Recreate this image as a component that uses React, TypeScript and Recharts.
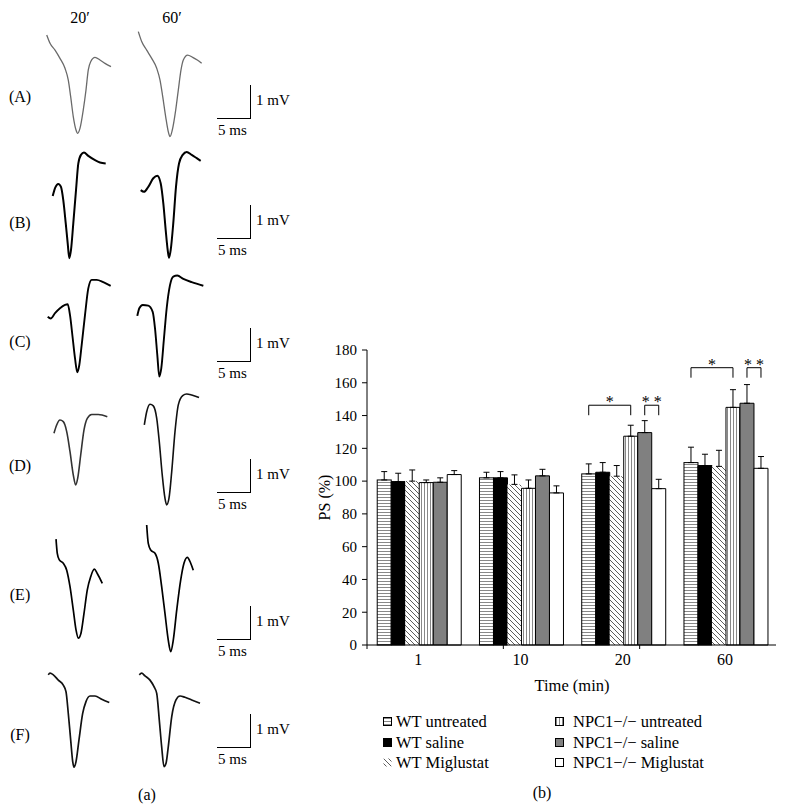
import React from 'react';
import { BarChart, Bar, XAxis, YAxis, ErrorBar, LineChart, Line } from 'recharts';

const FONT = '"Liberation Serif", "Times New Roman", serif';

// ---- panel (b): PS (%) by time ----
const times = ['1', '10', '20', '60'];
const wtUntreated = [100.7, 102, 104.4, 111.3];
const wtUntreatedErr = [5.1, 3.4, 6.1, 9.4];
const wtSaline = [99.7, 102, 105.4, 109.5];
const wtSalineErr = [5.1, 3.8, 5.9, 6.9];
const wtMiglustat = [100, 98, 103, 109];
const wtMiglustatErr = [6.8, 5.8, 6.5, 9.8];
const npcUntreated = [99.1, 95.6, 127.4, 145];
const npcUntreatedErr = [1.6, 5.1, 6.7, 10.8];
const npcSaline = [99.3, 103.2, 129.6, 147.5];
const npcSalineErr = [2.7, 4, 7.3, 11.4];
const npcMiglustat = [104, 92.8, 95.4, 107.8];
const npcMiglustatErr = [2.4, 4.3, 5.7, 7.2];
// height of the significance brackets (* and **), null = none
const sigBracket = [null, null, 146.3, 169.2];
const yTicks = [0, 20, 40, 60, 80, 100, 120, 140, 160, 180];

// ---- panel (a): field potential traces, [ms, mV] ----
const traceA20 = [[0.26, -0.15], [0.76, -0.4], [1.52, -0.61], [2.27, -0.86], [3.03, -1.16], [3.53, -1.52], [3.89, -2.02], [4.29, -2.63], [4.7, -3.03], [4.95, -3.13], [5.3, -2.98], [5.8, -2.42], [6.21, -1.82], [6.56, -1.21], [6.92, -0.96], [7.58, -0.83], [8.33, -0.91], [9.09, -1.01], [10.0, -1.11]];
const traceA60 = [[0.35, -0.05], [0.86, -0.35], [1.62, -0.61], [2.38, -0.86], [3.14, -1.16], [3.64, -1.52], [4.05, -2.02], [4.5, -2.63], [4.89, -3.08], [5.15, -3.23], [5.5, -3.03], [6.02, -2.42], [6.41, -1.82], [6.82, -1.21], [7.17, -0.91], [7.83, -0.76], [8.59, -0.83], [9.29, -0.91], [9.95, -1.01]];
const traceB20 = [[1.17, -1.7], [1.52, -1.46], [2.02, -1.33], [2.42, -1.42], [2.77, -1.82], [3.14, -2.52], [3.44, -3.13], [3.68, -3.58], [3.94, -3.33], [4.29, -2.52], [4.7, -1.52], [5.05, -0.71], [5.45, -0.45], [5.91, -0.38], [6.56, -0.48], [7.58, -0.61], [8.33, -0.68], [9.2, -0.71]];
const traceB60 = [[0.71, -1.52], [1.21, -1.57], [1.86, -1.42], [2.62, -1.16], [3.23, -1.08], [3.74, -1.31], [4.14, -1.92], [4.5, -2.73], [4.8, -3.33], [5.0, -3.57], [5.26, -3.33], [5.65, -2.52], [6.06, -1.42], [6.52, -0.71], [7.08, -0.45], [7.68, -0.36], [8.44, -0.45], [9.2, -0.55], [9.8, -0.63]];
const traceC20 = [[0.41, -1.57], [0.86, -1.62], [1.52, -1.46], [2.27, -1.31], [3.03, -1.21], [3.44, -1.19], [3.79, -1.52], [4.2, -2.22], [4.55, -2.83], [4.89, -3.25], [5.2, -3.03], [5.56, -2.42], [6.06, -1.52], [6.56, -0.71], [7.08, -0.45], [7.83, -0.45], [8.83, -0.52], [9.95, -0.63]];
const traceC60 = [[0.2, -1.54], [0.5, -1.31], [1.02, -1.21], [1.86, -1.23], [2.53, -1.42], [2.88, -1.92], [3.23, -2.73], [3.53, -3.38], [3.83, -3.13], [4.24, -2.22], [4.65, -1.31], [5.15, -0.61], [5.65, -0.35], [6.26, -0.32], [7.17, -0.42], [8.44, -0.52], [10.2, -0.63]];
const traceD20 = [[1.36, -1.31], [1.77, -1.06], [2.27, -0.91], [2.77, -0.96], [3.29, -1.26], [3.79, -1.87], [4.29, -2.58], [4.65, -2.88], [4.95, -2.68], [5.41, -1.97], [5.91, -1.21], [6.41, -0.86], [7.08, -0.74], [8.08, -0.74], [9.44, -0.81]];
const traceD60 = [[1.26, -1.06], [1.62, -0.66], [2.12, -0.43], [2.62, -0.48], [3.14, -0.86], [3.53, -1.57], [3.98, -2.58], [4.39, -3.28], [4.65, -3.48], [5.0, -3.28], [5.41, -2.48], [5.91, -1.26], [6.41, -0.45], [7.08, -0.17], [7.68, -0.12], [8.44, -0.15], [9.55, -0.23]];
const traceE20 = [[1.67, -0.58], [1.86, -1.01], [2.17, -1.21], [2.77, -1.31], [3.29, -1.52], [3.79, -2.02], [4.29, -2.73], [4.7, -3.33], [5.05, -3.58], [5.45, -3.43], [5.91, -2.83], [6.41, -2.12], [6.92, -1.72], [7.47, -1.49], [7.92, -1.62], [8.68, -1.92]];
const traceE60 = [[1.62, -0.15], [1.86, -0.71], [2.23, -0.91], [2.88, -1.01], [3.38, -1.31], [3.89, -2.02], [4.39, -2.83], [4.89, -3.64], [5.26, -3.99], [5.65, -3.64], [6.17, -2.73], [6.77, -1.82], [7.27, -1.31], [7.77, -1.13], [8.29, -1.31], [8.68, -1.52]];
const traceF20 = [[0.5, -0.45], [0.76, -0.4], [1.26, -0.45], [2.02, -0.61], [2.77, -0.76], [3.18, -0.96], [3.53, -1.62], [3.89, -2.42], [4.2, -3.08], [4.39, -3.25], [4.7, -3.08], [5.15, -2.42], [5.71, -1.62], [6.21, -1.26], [6.82, -1.09], [7.58, -1.09], [8.59, -1.19], [9.74, -1.29]];
const traceF60 = [[0.5, -0.45], [0.86, -0.4], [1.36, -0.48], [2.12, -0.61], [2.73, -0.81], [3.14, -1.01], [3.53, -1.82], [3.89, -2.63], [4.24, -3.23], [4.55, -3.13], [4.89, -2.63], [5.41, -1.72], [6.06, -1.21], [6.67, -1.09], [7.42, -1.13], [8.44, -1.21], [9.7, -1.31]];

const rowLabels = ['(A)', '(B)', '(C)', '(D)', '(E)', '(F)'];
const rowTraces = [
  [traceA20, traceA60],
  [traceB20, traceB60],
  [traceC20, traceC60],
  [traceD20, traceD60],
  [traceE20, traceE60],
  [traceF20, traceF60],
];

// layout of the rows in panel (a)
const rowLayout = [
  { top: 30, label: 97, bar: 118, color: ['#6a6a6a', '#6a6a6a'], w: 1.3 },
  { top: 140, label: 223, bar: 238, color: ['#000', '#000'], w: 2 },
  { top: 265, label: 342, bar: 361, color: ['#000', '#000'], w: 1.9 },
  { top: 390, label: 466, bar: 492, color: ['#333', '#111'], w: 1.6 },
  { top: 520, label: 595, bar: 639, color: ['#000', '#000'], w: 1.7 },
  { top: 660, label: 735, bar: 747, color: ['#111', '#111'], w: 1.7 },
];

const data = times.map((time, i) => ({
  time,
  wtU: wtUntreated[i], wtUErr: [0, wtUntreatedErr[i]],
  wtS: wtSaline[i], wtSErr: [0, wtSalineErr[i]],
  wtM: wtMiglustat[i], wtMErr: [0, wtMiglustatErr[i]],
  npU: npcUntreated[i], npUErr: [0, npcUntreatedErr[i]],
  npS: npcSaline[i], npSErr: [0, npcSalineErr[i]],
  npM: npcMiglustat[i], npMErr: [0, npcMiglustatErr[i]],
  sig: sigBracket[i],
}));

const Txt = ({ x, y, children, anchor = 'middle', size = 16 }: any) => (
  <div
    style={{
      position: 'absolute', left: x, top: y, fontFamily: FONT, fontSize: size, lineHeight: 1,
      whiteSpace: 'nowrap', color: '#000',
      transform: `translate(${anchor === 'middle' ? '-50%' : anchor === 'end' ? '-100%' : '0'}, -50%)`,
    }}
  >
    {children}
  </div>
);

const Trace = ({ points, left, top, color, w }: any) => (
  <div style={{ position: 'absolute', left, top }}>
    <LineChart width={79.2} height={148.5} data={points.map(([t, v]: number[]) => ({ t, v }))} margin={{ top: 0, right: 0, bottom: 0, left: 0 }}>
      <XAxis dataKey="t" type="number" domain={[0, 12]} hide allowDataOverflow />
      <YAxis type="number" domain={[-4.5, 0]} hide allowDataOverflow />
      <Line dataKey="v" type="monotone" stroke={color} strokeWidth={w} dot={false} isAnimationActive={false} />
    </LineChart>
  </div>
);

// first bar of each group also draws the significance brackets above the group
const BracketBar = (props: any) => {
  const { x, y, width, height, payload, fill } = props;
  const base = y + height;
  const ppu = height / payload.wtU;
  const parts: any[] = [
    <rect key="r" x={x} y={y} width={width} height={height} fill={fill} stroke="#000" strokeWidth={1} />,
  ];
  if (payload.sig != null) {
    const top = base - payload.sig * ppu;
    const leg = 10;
    const x1 = x + width / 2;
    const x2 = x + width * 3.5;
    const x3 = x + width * 4.5;
    const x4 = x + width * 5.5;
    parts.push(
      <path key="b1" d={`M${x1},${top + leg}V${top}H${x2}V${top + leg}`} fill="none" stroke="#000" strokeWidth={1} />,
      <path key="b2" d={`M${x3},${top + leg}V${top}H${x4}V${top + leg}`} fill="none" stroke="#000" strokeWidth={1} />,
      <text key="t1" x={(x1 + x2) / 2} y={top + 2} textAnchor="middle" fontFamily={FONT} fontSize={16}>*</text>,
      <text key="t2" x={(x3 + x4) / 2} y={top + 2} textAnchor="middle" fontFamily={FONT} fontSize={16}>* *</text>,
    );
  }
  return <g>{parts}</g>;
};

const legendLeft = [
  { label: 'WT untreated', fill: 'url(#pH)', stroke: '#000' },
  { label: 'WT saline', fill: '#000', stroke: '#000' },
  { label: 'WT Miglustat', fill: 'url(#pD)', stroke: 'none' },
];
const legendRight = [
  { label: 'NPC1\u2212/\u2212 untreated', fill: 'url(#pV)', stroke: '#000' },
  { label: 'NPC1\u2212/\u2212 saline', fill: '#808080', stroke: '#000' },
  { label: 'NPC1\u2212/\u2212 Miglustat', fill: '#fff', stroke: '#000' },
];
const legendRows = [722, 743, 763];

const Swatch = ({ x, y, fill, stroke }: any) => (
  <svg style={{ position: 'absolute', left: x, top: y - 5 }} width={10} height={10}>
    <rect x={0.5} y={0.5} width={8} height={8} fill={fill} stroke={stroke} strokeWidth={1} />
  </svg>
);

export default function App() {
  const yTickStyle = { fontFamily: FONT, fontSize: 15, fill: '#000' };
  const xTickStyle = { fontFamily: FONT, fontSize: 16, fill: '#000' };
  return (
    <div style={{ position: 'absolute', left: 0, top: 0, width: 787, height: 812, background: '#fff', overflow: 'hidden' }}>
      <svg width={0} height={0} style={{ position: 'absolute' }}>
        <defs>
          <pattern id="pH" patternUnits="userSpaceOnUse" width={6} height={3}>
            <rect width={6} height={3} fill="#fff" />
            <line x1={0} y1={1.5} x2={6} y2={1.5} stroke="#6a6a6a" strokeWidth={0.8} />
          </pattern>
          <pattern id="pV" patternUnits="userSpaceOnUse" width={3} height={6}>
            <rect width={3} height={6} fill="#fff" />
            <line x1={1.5} y1={0} x2={1.5} y2={6} stroke="#6a6a6a" strokeWidth={0.8} />
          </pattern>
          <pattern id="pD" patternUnits="userSpaceOnUse" width={5} height={5}>
            <rect width={5} height={5} fill="#fff" />
            <path d="M-1,-1L6,6M-1,4L1,6M4,-1L6,1" stroke="#333" strokeWidth={0.8} />
          </pattern>
        </defs>
      </svg>

      {/* panel (a) */}
      <Txt x={80} y={18}>20′</Txt>
      <Txt x={172} y={18}>60′</Txt>
      {rowLabels.map((lab, r) => {
        const L = rowLayout[r];
        return (
          <React.Fragment key={lab}>
            <Txt x={20} y={L.label}>{lab}</Txt>
            <Trace points={rowTraces[r][0]} left={45} top={L.top} color={L.color[0]} w={L.w} />
            <Trace points={rowTraces[r][1]} left={136} top={L.top} color={L.color[1]} w={L.w} />
            <div style={{ position: 'absolute', left: 249.5, top: L.bar - 33, width: 1.2, height: 33, background: '#000' }} />
            <div style={{ position: 'absolute', left: 217, top: L.bar, width: 34, height: 1.2, background: '#000' }} />
            <Txt x={256} y={L.bar - 18} anchor="start" size={15}>1 mV</Txt>
            <Txt x={218} y={L.bar + 12} anchor="start" size={15}>5 ms</Txt>
          </React.Fragment>
        );
      })}
      <Txt x={147} y={795}>(a)</Txt>

      {/* panel (b) */}
      <div style={{ position: 'absolute', left: 300, top: 340 }}>
        <BarChart
          width={480}
          height={335}
          data={data}
          margin={{ top: 10, right: 4, bottom: 0, left: 0 }}
          barCategoryGap="10%"
          barGap={0}
        >
          {/* frame axis: line and ticks at the category boundaries */}
          <XAxis
            xAxisId={0}
            type="number"
            domain={[0, 4]}
            ticks={[0, 1, 2, 3, 4]}
            tickFormatter={() => ''}
            tickSize={4}
            height={1}
            axisLine={{ stroke: '#000' }}
            tickLine={{ stroke: '#000' }}
            allowDataOverflow
          />
          <XAxis
            xAxisId="cat"
            dataKey="time"
            height={29}
            axisLine={false}
            tickLine={false}
            tickSize={5}
            tickMargin={3}
            tick={xTickStyle}
            interval={0}
          />
          <YAxis
            domain={[0, 180]}
            ticks={yTicks}
            interval={0}
            width={67}
            tickSize={5}
            tickMargin={5}
            tick={yTickStyle}
            axisLine={{ stroke: '#000' }}
            tickLine={{ stroke: '#000' }}
            label={{ value: 'PS (%)', angle: -90, position: 'center', dx: -9, style: { fontFamily: FONT, fontSize: 16, fill: '#000' } }}
          />
          <Bar xAxisId="cat" dataKey="wtU" fill="url(#pH)" shape={BracketBar} isAnimationActive={false}>
            <ErrorBar dataKey="wtUErr" width={3} stroke="#000" strokeWidth={1} direction="y" />
          </Bar>
          <Bar xAxisId="cat" dataKey="wtS" fill="#000" stroke="#000" strokeWidth={1} isAnimationActive={false}>
            <ErrorBar dataKey="wtSErr" width={3} stroke="#000" strokeWidth={1} direction="y" />
          </Bar>
          <Bar xAxisId="cat" dataKey="wtM" fill="url(#pD)" isAnimationActive={false}>
            <ErrorBar dataKey="wtMErr" width={3} stroke="#000" strokeWidth={1} direction="y" />
          </Bar>
          <Bar xAxisId="cat" dataKey="npU" fill="url(#pV)" stroke="#000" strokeWidth={1} isAnimationActive={false}>
            <ErrorBar dataKey="npUErr" width={3} stroke="#000" strokeWidth={1} direction="y" />
          </Bar>
          <Bar xAxisId="cat" dataKey="npS" fill="#808080" stroke="#000" strokeWidth={1} isAnimationActive={false}>
            <ErrorBar dataKey="npSErr" width={3} stroke="#000" strokeWidth={1} direction="y" />
          </Bar>
          <Bar xAxisId="cat" dataKey="npM" fill="#fff" stroke="#000" strokeWidth={1} isAnimationActive={false}>
            <ErrorBar dataKey="npMErr" width={3} stroke="#000" strokeWidth={1} direction="y" />
          </Bar>
        </BarChart>
      </div>
      <Txt x={572} y={686} size={16.5}>Time (min)</Txt>

      {legendLeft.map((it, i) => (
        <React.Fragment key={it.label}>
          <Swatch x={383} y={legendRows[i]} fill={it.fill} stroke={it.stroke} />
          <Txt x={396} y={legendRows[i]} anchor="start" size={16.5}>{it.label}</Txt>
        </React.Fragment>
      ))}
      {legendRight.map((it, i) => (
        <React.Fragment key={it.label}>
          <Swatch x={555} y={legendRows[i]} fill={it.fill} stroke={it.stroke} />
          <Txt x={573} y={legendRows[i]} anchor="start" size={16.5}>{it.label}</Txt>
        </React.Fragment>
      ))}
      <Txt x={542} y={793}>(b)</Txt>
    </div>
  );
}
